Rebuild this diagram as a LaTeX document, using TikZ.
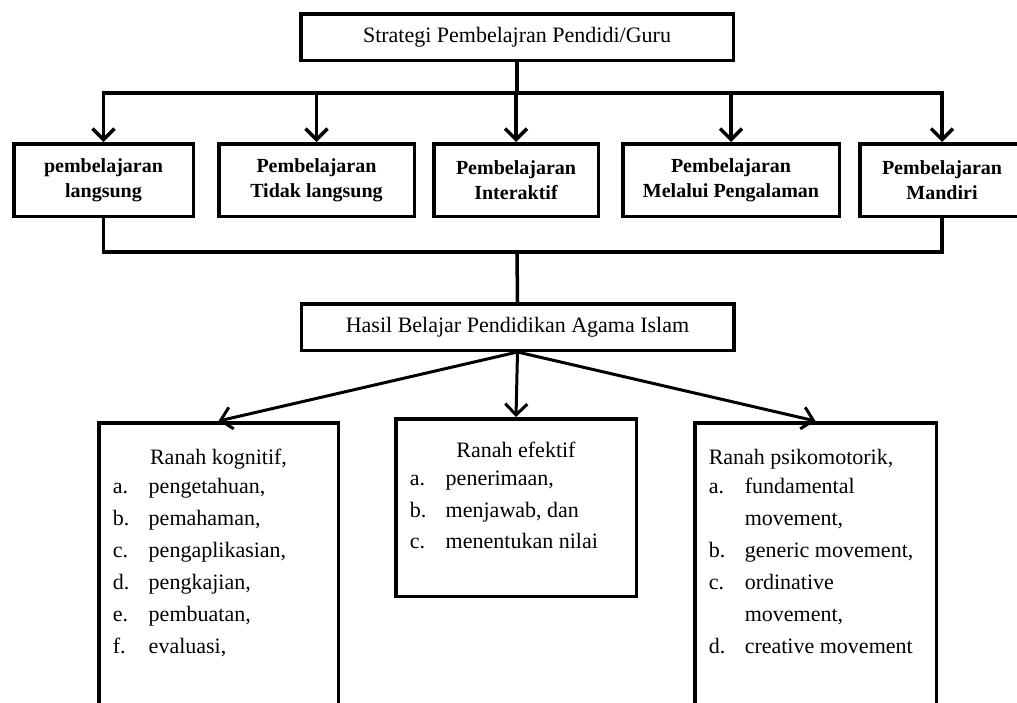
\documentclass[tikz,border=0pt]{standalone}
\usepackage{fontspec}
\setmainfont{Liberation Serif}
\usetikzlibrary{positioning, arrows.meta}
\newcommand{\itm}[2]{\makebox[36pt][l]{#1}#2\par}

\begin{document}
\begin{tikzpicture}[x=1pt, y=-1pt,
  titlebox/.style={draw, line width=3.5pt, inner sep=0pt, align=center,
                   minimum width=432.5pt, minimum height=46.5pt,
                   font=\fontsize{22}{26}\selectfont},
  stratbox/.style={draw, line width=3.5pt, inner sep=0pt, align=center,
                   minimum height=72.5pt, font=\bfseries\fontsize{20}{25}\selectfont},
  ranahbox/.style={draw, line width=3.5pt, anchor=north, inner xsep=14pt, inner ysep=0pt},
  arr/.style={-{Straight Barb[length=11pt, width=22pt]}, line width=3.5pt},
  conn/.style={line width=3.5pt},
]
  \useasboundingbox (0,0) rectangle (1017,702);

  \node[titlebox] (strategi) at (517,37) {Strategi Pembelajran Pendidi/Guru};

  \node[stratbox, minimum width=179.5pt] (langsung)   at (103.5,180) {pembelajaran\\langsung};
  \node[stratbox, minimum width=195.5pt] (tdklangsung) at (316.5,180) {Pembelajaran\\Tidak langsung};
  \node[stratbox, minimum width=164.5pt] (interaktif) at (516,180)   {Pembelajaran\\Interaktif};
  \node[stratbox, minimum width=216.5pt] (pengalaman) at (731,180)   {Pembelajaran\\Melalui Pengalaman};
  \node[stratbox, minimum width=164.5pt] (mandiri)    at (942,180)   {Pembelajaran\\Mandiri};

  \node[titlebox] (hasil) at (517.5,327) {Hasil Belajar Pendidikan Agama Islam};

  \node[ranahbox] (kognitif) at (218.5,421) {\parbox[c][317pt][t]{211.5pt}{%
    \fontsize{22}{32}\selectfont\vspace*{26pt}%
    \centering Ranah kognitif,\par\vspace{-3pt}\raggedright
    \itm{a.}{pengetahuan,}\itm{b.}{pemahaman,}\itm{c.}{pengaplikasian,}%
    \itm{d.}{pengkajian,}\itm{e.}{pembuatan,}\itm{f.}{evaluasi,}}};
  \node[ranahbox] (efektif) at (516,417) {\parbox[c][177.5pt][t]{212.5pt}{%
    \fontsize{22}{31.5}\selectfont\vspace*{23pt}%
    \centering Ranah efektif\par\vspace{-3pt}\raggedright
    \itm{a.}{penerimaan,}\itm{b.}{menjawab, dan}\itm{c.}{menentukan nilai}}};
  \node[ranahbox] (psikomotorik) at (815.5,421) {\parbox[c][317pt][t]{213.5pt}{%
    \fontsize{22}{32}\selectfont\vspace*{26pt}%
    \raggedright Ranah psikomotorik,\par\vspace{-3pt}
    \itm{a.}{fundamental}\itm{}{movement,}\itm{b.}{generic movement,}%
    \itm{c.}{ordinative}\itm{}{movement,}\itm{d.}{creative movement}}};

  % strategi -> jenis pembelajaran
  \coordinate (split) at (517,93);
  \coordinate (join)  at (517,252);
  \draw[conn] (strategi) -- (split);
  \draw[conn, line cap=rect] (langsung |- split) -- (mandiri |- split);
  \foreach \p in {langsung, tdklangsung, interaktif, pengalaman, mandiri}
    \draw[arr] (\p |- split) -- (\p.north);

  % jenis pembelajaran -> hasil belajar
  \draw[conn] (langsung.south) |- (join) -| (mandiri.south);
  \draw[conn] (join) -- (hasil.north);

  % hasil belajar -> ranah
  \draw[arr, line width=3pt] (hasil.south) -- (kognitif.north);
  \draw[arr, line width=3pt] (hasil.south) -- (efektif.north);
  \draw[arr, line width=3pt] (hasil.south) -- (psikomotorik.north);
\end{tikzpicture}
\end{document}
